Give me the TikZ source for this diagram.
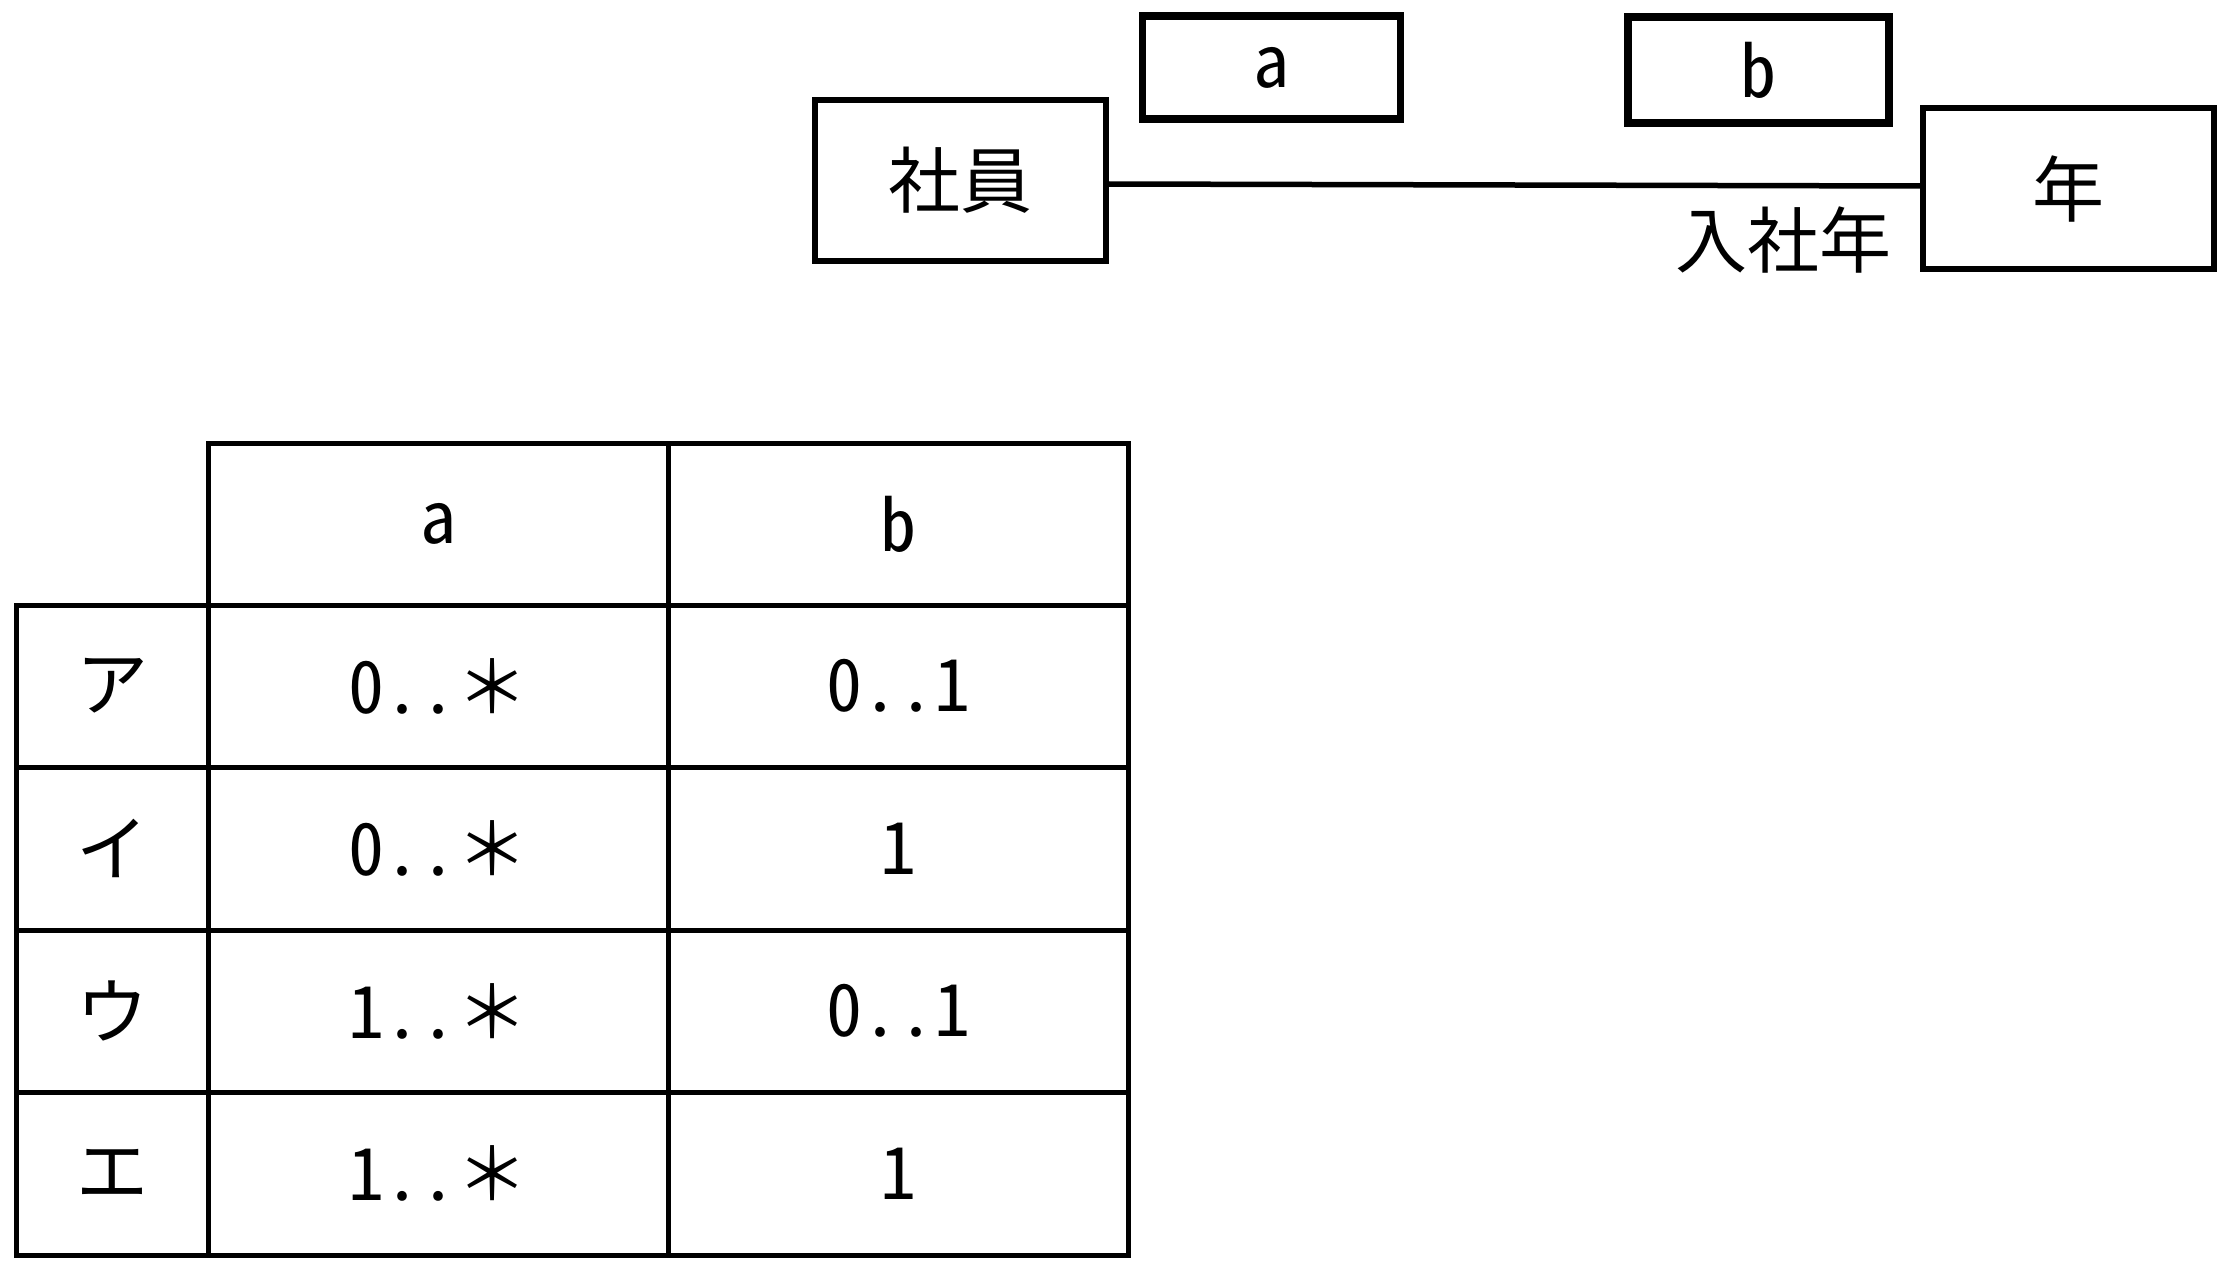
\documentclass[tikz,border=0pt]{standalone}
\usepackage{fontspec}
\setmainfont{Noto Sans CJK JP}
\newfontfamily\hw{Noto Sans CJK JP}[RawFeature=+hwid,RawFeature=+zero]
\begin{document}
\begin{tikzpicture}[x=1pt,y=-1pt,
  every node/.style={font=\fontsize{72}{80}\selectfont, inner sep=0pt},
  ent/.style={draw, line width=5.5pt, minimum width=291pt, minimum height=161pt},
  role/.style={draw, line width=7.5pt, minimum width=258pt, minimum height=103pt},
  grid/.style={line width=5pt, line cap=rect}]
\useasboundingbox (0,0) rectangle (2230,1268);
% top diagram
\node[ent] (shain) at (960.5,180.5) {社員};
\node[ent] (nen) at (2068.5,188.5) {年};
\node[role] (ra) at (1271.5,67.5) {\hw a};
\node[role, minimum width=261pt, minimum height=106pt] (rb) at (1758.5,70) {\hw b};
\draw[line width=5.5pt] (shain.east |- 0,184) -- (nen.west |- 0,186);
\node (lbl) at (1783,240) {入社年};
% table
\draw[grid] (208,443) rectangle (1128,1255);
\draw[grid] (16,605) rectangle (208,1255);
\foreach \yy in {605,767,930,1092} \draw[grid] (16,\yy) -- (1128,\yy);
\draw[grid] (668,443) -- (668,1255);
\node (ha) at (438,524) {\hw a};
\node (hb) at (898,524) {\hw b};
\node (k1) at (112,686) {ア};
\node (k2) at (112,848.5) {イ};
\node (k3) at (112,1011) {ウ};
\node (k4) at (112,1173.5) {エ};
\node (a1) at (438,686) {{\hw 0..}＊};
\node (a2) at (438,848.5) {{\hw 0..}＊};
\node (a3) at (438,1011) {{\hw 1..}＊};
\node (a4) at (438,1173.5) {{\hw 1..}＊};
\node (b1) at (898,686) {\hw 0..1};
\node (b2) at (898,848.5) {\hw 1};
\node (b3) at (898,1011) {\hw 0..1};
\node (b4) at (898,1173.5) {\hw 1};
\end{tikzpicture}
\end{document}
